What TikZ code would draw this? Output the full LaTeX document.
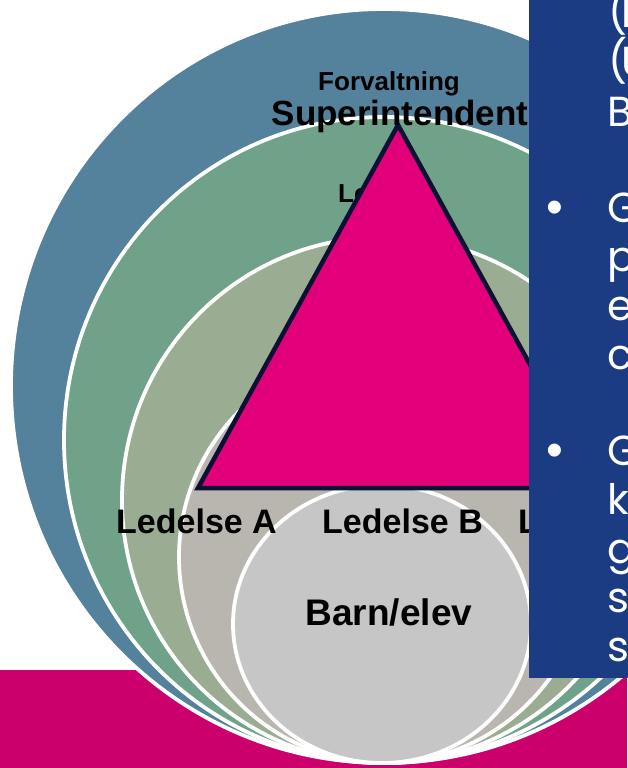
\documentclass[tikz,border=0pt]{standalone}
\usepackage{fontspec}
\usepackage{tikz}
\usetikzlibrary{calc, positioning}
\setmainfont{Liberation Sans}
\newfontfamily\panelfont{Poppins}
\definecolor{ringBlue}{HTML}{54819B}
\definecolor{ringGreen}{HTML}{6FA288}
\definecolor{ringSage}{HTML}{9AAD93}
\definecolor{ringBeige}{HTML}{B8B6AF}
\definecolor{ringGrey}{HTML}{C6C6C6}
\definecolor{triPink}{HTML}{E2007A}
\definecolor{triLine}{HTML}{0D1035}
\definecolor{panelBlue}{HTML}{1B3C82}
\definecolor{bandPink}{HTML}{CC006C}
\tikzset{ring/.style={draw=white,line width=3.8pt},
  lbl/.style={font=\bfseries\fontsize{34}{40}\selectfont,anchor=base west},
  ptxt/.style={font=\panelfont\fontsize{42}{48}\selectfont,text=white,anchor=base west},
  bul/.style={font=\fontsize{48}{52}\selectfont,text=white}}

\begin{document}
\begin{tikzpicture}[x=1pt,y=-1pt,inner sep=0pt,node distance=44pt]
\useasboundingbox (0,0) rectangle (627,768);
\fill [bandPink] (0,670) rectangle (627,768);
\draw [ring,fill=ringBlue]  (384,386) ellipse [x radius=373,y radius=377];
\draw [ring,fill=ringGreen] (384,440) ellipse [x radius=320,y radius=323];
\draw [ring,fill=ringSage]  (384,500) ellipse [x radius=262,y radius=263];
\draw [ring,fill=ringBeige] (384,557) ellipse [x radius=205,y radius=206];
\draw [ring,fill=ringGrey]  (382,624) ellipse [x radius=149,y radius=139];
\draw node [font=\bfseries\fontsize{26}{30}\selectfont,anchor=base west] (Le) at (338,202) {Le};
\coordinate (Apex) at (398,125);
\coordinate (BaseL) at (198,488);
\coordinate (BaseR) at (598,488);
\draw [fill=triPink,draw=triLine,line width=4.5pt] (Apex) -- (BaseL) -- (BaseR) -- cycle;
\draw node [font=\bfseries\fontsize{26}{30}\selectfont,anchor=base] (Forv) at (389,90) {Forvaltning};
\draw node [font=\bfseries\fontsize{35}{40}\selectfont,anchor=base] (Sup) at (400,125) {Superintendent};
\draw node [lbl] (LedA) at (116,533) {Ledelse A};
\draw node [lbl,base right=45pt of LedA] (LedB) {Ledelse B};
\draw node [lbl,base right=35pt of LedB] (LedC) {L};
\draw node [font=\bfseries\fontsize{37}{42}\selectfont,anchor=base] (Barn) at (389,625) {Barn/elev};
\fill [panelBlue] (529,-5) rectangle (640,678);
\draw node [ptxt] (Pa0) at (608,28) {(\kern-6pt I};
\draw node [ptxt] (Pa1) at (608,77) {(\kern-6pt U};
\draw node [ptxt] (Pa2) at (607,126) {B};
\foreach \t [count=\i from 0] in {G,p,e,c}
  \draw node [ptxt] (Pb\i) at (607,{222+49*\i}) {\t};
\foreach \t [count=\i from 0] in {G,k,g,s,s}
  \draw node [ptxt] (Pc\i) at (607,{465+49*\i}) {\t};
\draw node [bul] (Bb) at (555,212) {\textbullet};
\draw node [bul] (Bc) at (555,455) {\textbullet};
\end{tikzpicture}
\end{document}
